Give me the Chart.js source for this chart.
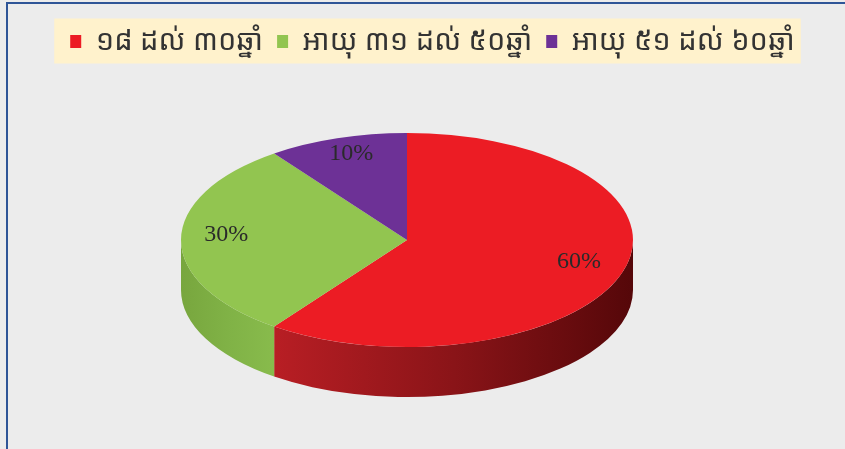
<!DOCTYPE html>
<html>
<head>
<meta charset="utf-8">
<script src="https://cdn.jsdelivr.net/npm/chart.js@4"></script>
<style>
  html, body { margin: 0; padding: 0; background: #ececec; }
  canvas { display: block; }
</style>
</head>
<body>
<canvas id="chart" width="845" height="449"></canvas>
<script>
// age groups and their shares (%)
const categories = ["១៨ ដល់ ៣០ឆ្នាំ", "អាយុ ៣១ ដល់ ៥០ឆ្នាំ", "អាយុ ៥១ ដល់ ៦០ឆ្នាំ"];
const shares = [60, 30, 10];
const colors = ["#ec1c24", "#92c550", "#6d3196"];
const sideColors = [
  ["#b81e24", "#8a1418", "#550709"],
  ["#78a63e", "#80b246", "#88bb4c"],
  ["#55247a", "#4a1f6b", "#3f1a5c"],
];

const khmerFont = "'Khmer OS', 'Noto Sans Khmer', 'Khmer OS System', 'Noto Serif Khmer', 'Noto Sans', sans-serif";

// where the tilted pie sits on the page
const tilt = { cx: 407, cy: 240, rx: 226, ry: 107, depth: 50 };

const frame = {
  id: "frame",
  beforeDraw(chart) {
    const ctx = chart.ctx;
    ctx.save();
    ctx.fillStyle = "#ececec";
    ctx.fillRect(0, 0, chart.width, chart.height);
    ctx.strokeStyle = "#2f5597";
    ctx.lineWidth = 2;
    ctx.beginPath();
    ctx.moveTo(7, chart.height);
    ctx.lineTo(7, 3);
    ctx.lineTo(chart.width, 3);
    ctx.stroke();

    // beige band behind the legend
    const boxes = chart.legend.legendHitBoxes;
    if (boxes && boxes.length) {
      const left = Math.min(...boxes.map((b) => b.left)) - 16;
      const right = Math.max(...boxes.map((b) => b.left + b.width)) + 6;
      const mid = boxes[0].top + boxes[0].height / 2;
      ctx.fillStyle = "#fff2cc";
      ctx.fillRect(left, mid - 23, right - left, 45);
    }
    ctx.restore();
  },
};

const pie3d = {
  id: "pie3d",
  beforeDatasetsDraw(chart) {
    const ctx = chart.ctx;
    const arcs = chart.getDatasetMeta(0).data;
    const { x, y, outerRadius } = arcs[0];

    // side walls of the front half
    arcs.forEach((arc, i) => {
      const s = Math.max(arc.startAngle, 0);
      const e = Math.min(arc.endAngle, Math.PI);
      if (e <= s) return;
      const x0 = tilt.cx + tilt.rx * Math.cos(e);
      const x1 = tilt.cx + tilt.rx * Math.cos(s);
      const g = ctx.createLinearGradient(x0, 0, x1, 0);
      g.addColorStop(0, sideColors[i][0]);
      g.addColorStop(0.5, sideColors[i][1]);
      g.addColorStop(1, sideColors[i][2]);
      ctx.save();
      ctx.beginPath();
      ctx.ellipse(tilt.cx, tilt.cy, tilt.rx, tilt.ry, 0, s, e);
      ctx.ellipse(tilt.cx, tilt.cy + tilt.depth, tilt.rx, tilt.ry, 0, e, s, true);
      ctx.closePath();
      ctx.fillStyle = g;
      ctx.fill();
      ctx.restore();
    });

    // squash the flat pie into the top face
    ctx.save();
    ctx.translate(tilt.cx, tilt.cy);
    ctx.scale(tilt.rx / outerRadius, tilt.ry / outerRadius);
    ctx.translate(-x, -y);
  },
  afterDatasetsDraw(chart) {
    const ctx = chart.ctx;
    ctx.restore();

    const arcs = chart.getDatasetMeta(0).data;
    ctx.save();
    ctx.font = "24px 'Liberation Serif', 'Times New Roman', serif";
    ctx.fillStyle = "#2a2a2a";
    ctx.textAlign = "center";
    ctx.textBaseline = "middle";
    arcs.forEach((arc, i) => {
      const a = (arc.startAngle + arc.endAngle) / 2;
      const lx = tilt.cx + tilt.rx * 0.8 * Math.cos(a);
      const ly = tilt.cy + tilt.ry * 0.8 * Math.sin(a) - 5;
      ctx.fillText(shares[i] + "%", lx, ly);
    });
    ctx.restore();
  },
};

new Chart(document.getElementById("chart"), {
  type: "pie",
  data: {
    labels: categories,
    datasets: [
      {
        data: shares,
        backgroundColor: colors,
        borderWidth: 0,
        clip: false,
      },
    ],
  },
  options: {
    responsive: false,
    animation: false,
    events: [],
    layout: {
      padding: { top: 13, left: 38, right: 18, bottom: 20 },
    },
    plugins: {
      legend: {
        display: true,
        position: "top",
        labels: {
          boxWidth: 11,
          boxHeight: 13,
          padding: 14,
          color: "#333333",
          font: { size: 29, family: khmerFont },
        },
      },
      tooltip: { enabled: false },
    },
  },
  plugins: [frame, pie3d],
});
</script>
</body>
</html>
